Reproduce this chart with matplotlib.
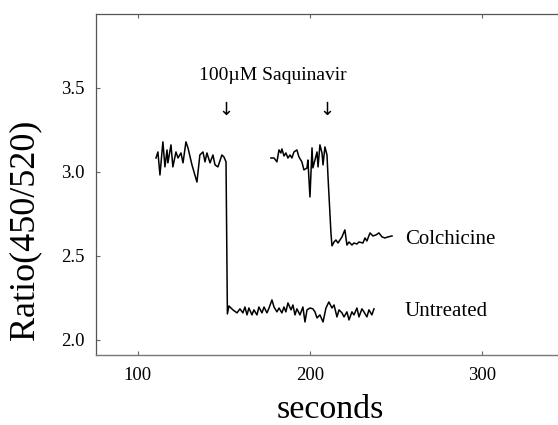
import matplotlib
matplotlib.use("Agg")
import matplotlib.pyplot as plt

plt.rcParams['font.family'] = ['Liberation Serif', 'DejaVu Serif']

# Untreated trace
untreated_x = [110.5, 111.6, 112.8, 114.5, 115.7, 116.9, 117.4, 119.2, 120.3, 122.1,
               123.3, 125.0, 126.2, 127.9, 129.1, 131.4, 134.3, 136.0, 137.8, 139.0,
               140.1, 141.9, 143.6, 144.8, 146.5, 148.8, 150.0, 151.2,
               152.0, 152.9, 155.2, 157.6, 159.3, 161.0, 162.2, 163.4, 164.5, 166.3,
               167.4, 169.2, 170.3, 172.1, 173.3, 175.0, 176.2, 177.9, 179.1, 180.8,
               182.0, 183.7, 184.9, 186.0, 187.2, 189.0, 190.1, 191.3, 192.4, 194.2,
               195.9, 197.1, 198.3, 200.0, 201.7, 202.9, 204.1, 205.8, 207.6, 209.3,
               211.0, 212.8, 214.0, 215.7, 216.9, 218.6, 219.8, 221.5, 222.7, 224.4,
               225.6, 227.3, 228.5, 230.2, 231.4, 233.1, 234.3, 236.0, 237.2]
untreated_y = [3.083, 3.119, 2.982, 3.179, 3.030, 3.131, 3.054, 3.161, 3.030, 3.119,
               3.083, 3.113, 3.054, 3.179, 3.143, 3.042, 2.940, 3.101, 3.119, 3.060,
               3.113, 3.054, 3.101, 3.042, 3.030, 3.101, 3.089, 3.060,
               2.155, 2.202, 2.179, 2.161, 2.185, 2.161, 2.196, 2.149, 2.190, 2.149,
               2.179, 2.149, 2.196, 2.161, 2.196, 2.161, 2.190, 2.238, 2.196, 2.167,
               2.190, 2.161, 2.196, 2.167, 2.220, 2.179, 2.208, 2.149, 2.185, 2.149,
               2.196, 2.107, 2.179, 2.190, 2.185, 2.167, 2.131, 2.149, 2.107, 2.190,
               2.226, 2.190, 2.208, 2.137, 2.179, 2.161, 2.137, 2.167, 2.119, 2.167,
               2.149, 2.190, 2.137, 2.185, 2.167, 2.137, 2.179, 2.149, 2.185]

# Colchicine trace
colchicine_x = [177.3, 179.1, 180.8, 182.0, 183.1, 183.7, 184.9, 186.0, 187.2, 188.4,
                189.5, 190.7, 192.4, 193.6, 195.3, 196.5, 198.3, 198.8, 200.0, 201.2,
                201.7, 202.9, 204.1, 204.7, 205.8, 207.0, 207.6, 208.7, 209.9,
                210.5, 212.2, 212.8,
                214.0, 215.1, 216.3, 218.6, 220.3, 221.5, 222.7, 224.4, 225.6, 227.3,
                228.5, 230.8, 232.0, 233.1, 234.9, 236.6, 238.4, 240.1, 241.9, 243.6,
                245.3, 247.7]
colchicine_y = [3.083, 3.083, 3.060, 3.131, 3.113, 3.137, 3.095, 3.113, 3.083, 3.101,
                3.083, 3.119, 3.131, 3.089, 3.060, 3.012, 3.024, 3.071, 2.851, 3.143,
                3.024, 3.071, 3.119, 3.030, 3.161, 3.113, 3.042, 3.149, 3.101,
                2.970, 2.637, 2.560,
                2.583, 2.595, 2.577, 2.613, 2.655, 2.565, 2.583, 2.565, 2.577, 2.571,
                2.583, 2.577, 2.607, 2.589, 2.637, 2.619, 2.625, 2.637, 2.613, 2.607,
                2.613, 2.619]

x_ticks = [100, 200, 300]
y_ticks = [2.0, 2.5, 3.0, 3.5]
y_tick_labels = ["2.0", "2.5", "3.0", "3.5"]

fig = plt.figure(figsize=(5.58, 4.25), dpi=100)
ax = fig.add_axes([0.172, 0.165, 0.828, 0.802])

ax.plot(untreated_x, untreated_y, color='black', lw=1.1)
ax.plot(colchicine_x, colchicine_y, color='black', lw=1.1)

ax.set_xlim(75.6, 344.2)
ax.set_ylim(1.911, 3.94)
ax.set_xticks(x_ticks)
ax.set_xticklabels([str(t) for t in x_ticks])
ax.set_yticks(y_ticks)
ax.set_yticklabels(y_tick_labels)

ax.tick_params(axis='both', direction='in', length=3, width=0.8, color='#666666',
               labelsize=13.5, top=True, right=False, pad=8)
ax.tick_params(axis='x', pad=9)
for s in ['top', 'left']:
    ax.spines[s].set_color('#555555')
    ax.spines[s].set_linewidth(0.9)
ax.spines['bottom'].set_color('#777777')
ax.spines['bottom'].set_linewidth(1.0)
ax.spines['bottom'].set_linestyle((0, (2, 1)))
ax.spines['right'].set_visible(False)

fig.text(330 / 558, 1 - 418 / 425, 'seconds', fontsize=24.5, ha='center', va='baseline')
fig.text(25 / 558, 1 - 230 / 425, 'Ratio(450/520)', fontsize=26, ha='center',
         va='center', rotation=90)

ax.text(178.5, 3.577, '100\u00b5M Saquinavir', fontsize=14, ha='center', va='center')
ax.text(151.2, 3.369, '\u2193', fontsize=13, ha='center', va='center',
        family=['DejaVu Sans'])
ax.text(209.9, 3.369, '\u2193', fontsize=13, ha='center', va='center',
        family=['DejaVu Sans'])
ax.text(255.2, 2.595, 'Colchicine', fontsize=15, ha='left', va='center')
ax.text(255.2, 2.167, 'Untreated', fontsize=15, ha='left', va='center')

fig.savefig('out.png', dpi=100)
